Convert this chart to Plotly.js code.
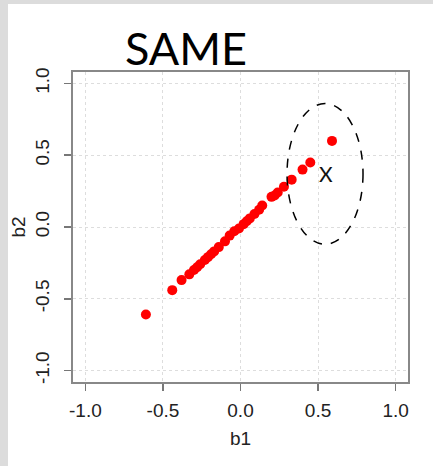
<!DOCTYPE html>
<html>
<head>
<meta charset="utf-8">
<script src="https://cdn.plot.ly/plotly-3.0.1.min.js"></script>
<style>
html,body{margin:0;padding:0;background:#dcdcdc;width:433px;height:466px;overflow:hidden;}
#plot{position:absolute;left:8px;top:4px;width:425px;height:462px;background:#fff;}
</style>
</head>
<body>
<div id="plot"></div>
<script>
const b1 = [-0.61,-0.44,-0.38,-0.33,-0.30,-0.28,-0.26,-0.23,-0.21,-0.19,-0.17,-0.14,-0.10,-0.07,-0.04,-0.01,0.02,0.04,0.06,0.09,0.12,0.14,0.20,0.22,0.24,0.28,0.33,0.40,0.45,0.59];
const b2 = [-0.61,-0.44,-0.37,-0.33,-0.30,-0.28,-0.26,-0.23,-0.21,-0.19,-0.17,-0.14,-0.10,-0.06,-0.03,-0.01,0.02,0.04,0.06,0.09,0.12,0.15,0.21,0.22,0.24,0.28,0.33,0.40,0.45,0.60];
const tickVals = [-1.0,-0.5,0.0,0.5,1.0];
const tickText = ["-1.0","-0.5","0.0","0.5","1.0"];
const titleText = "SAME";
const markLabel = "X";
const markPos = [0.55, 0.37];
const ellipseBox = {x0:0.30, x1:0.79, y0:-0.12, y1:0.86};

const tickFont = {family:"Liberation Sans, Arial, sans-serif", size:19, color:"#222"};
const axisCommon = {
  range:[-1.08,1.08], tickvals:tickVals, ticktext:tickText, ticks:"outside",
  ticklen:7, tickwidth:1.5, tickcolor:"#777", showline:true, mirror:true,
  linecolor:"#888", linewidth:2, showgrid:true, gridcolor:"#dddddd", griddash:"dot",
  gridwidth:1, zeroline:false, tickfont:tickFont, fixedrange:true
};

const trace = {
  x:b1, y:b2, type:"scatter", mode:"markers",
  marker:{color:"#ff0000", size:10, line:{width:0}}, hoverinfo:"none"
};

const layout = {
  width:425, height:462,
  margin:{l:64.7, r:25.3, t:68, b:84},
  paper_bgcolor:"#ffffff", plot_bgcolor:"#ffffff",
  showlegend:false,
  xaxis:Object.assign({}, axisCommon, {
    ticklabelstandoff:3,
    title:{text:"b1", font:{family:"Liberation Sans, Arial, sans-serif", size:19, color:"#222"}, standoff:12}
  }),
  yaxis:Object.assign({}, axisCommon, {
    tickangle:-90,
    ticklabelstandoff:7,
    title:{text:"b2", font:{family:"Liberation Sans, Arial, sans-serif", size:19, color:"#222"}, standoff:8}
  }),
  shapes:[{
    type:"circle", xref:"x", yref:"y",
    x0:ellipseBox.x0, x1:ellipseBox.x1, y0:ellipseBox.y0, y1:ellipseBox.y1,
    line:{color:"#000", width:1.5, dash:"dash"}
  }],
  annotations:[
    {text:titleText, xref:"x", yref:"paper", x:-0.352, y:1.078, xanchor:"center", yanchor:"middle",
     showarrow:false, font:{family:"Lato, sans-serif", size:45, color:"#000"}},
    {text:markLabel, xref:"x", yref:"y", x:markPos[0], y:markPos[1], xanchor:"center", yanchor:"middle",
     showarrow:false, font:{family:"Lato, sans-serif", size:21, color:"#111"}}
  ]
};

Plotly.newPlot("plot", [trace], layout, {staticPlot:true, displayModeBar:false});
</script>
</body>
</html>
